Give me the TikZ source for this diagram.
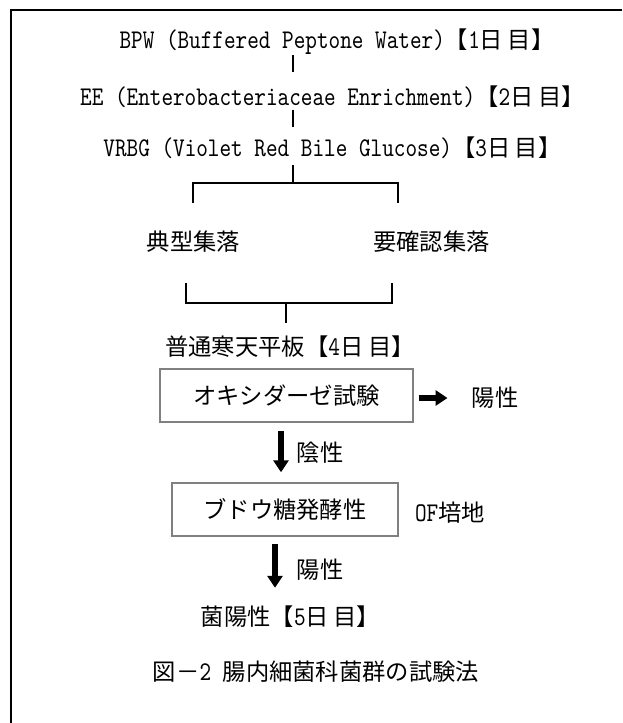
\documentclass[tikz,border=0pt]{standalone}
\usepackage{fontspec}
\setmainfont{Noto Sans CJK JP}
\newfontfamily\lat{lmmono10-regular.otf}[FakeStretch=0.82]
\usetikzlibrary{arrows.meta}
\newcommand{\jsz}{\fontsize{23.3pt}{28pt}\selectfont}
\newcommand{\lsz}{\lat\fontsize{27pt}{30pt}\selectfont}
\newcommand{\hw}[1]{{\lsz #1}}
\newcommand{\nichime}[1]{【\hw{#1}日\hspace{0.2em}目】}
\begin{document}
\begin{tikzpicture}[x=1pt,y=-1pt,
  txt/.style={inner sep=0pt, font=\jsz},
  conn/.style={line width=1.8pt},
  frameline/.style={line width=2pt},
  procbox/.style={draw=black!50, line width=1.5pt, inner sep=0pt, font=\jsz, minimum height=53pt},
  fat/.style={line width=6pt, -{Triangle[length=12pt,width=15pt]}}]
\useasboundingbox (0,0) rectangle (622,723);
\draw[frameline] (622,10) -- (11,10) -- (11,723);

\node[txt] (bpw) at (337,42) {\hw{BPW (Buffered Peptone Water)}\nichime{1}};
\node[txt] (ee) at (332.5,97) {\hw{EE (Enterobacteriaceae Enrichment)}\nichime{2}};
\node[txt] (vrbg) at (332.5,148) {\hw{VRBG (Violet Red Bile Glucose)}\nichime{3}};

\coordinate (t1a) at (293,55);  \coordinate (t1b) at (293,72);
\coordinate (t2a) at (293,110); \coordinate (t2b) at (293,127);
\coordinate (t3a) at (293,165); \coordinate (t3b) at (293,183);
\draw[conn] (t1a) -- (t1b);
\draw[conn] (t2a) -- (t2b);
\draw[conn] (t3a) -- (t3b);

\coordinate (b1l) at (193,203); \coordinate (b1r) at (398,203);
\draw[conn] (b1l) -- (b1l |- t3b) -- (b1r |- t3b) -- (b1r);

\node[txt] (typ) at (193.5,242) {典型集落};
\node[txt] (req) at (431.5,242) {要確認集落};

\coordinate (b2l) at (186,283); \coordinate (b2r) at (392,283);
\coordinate (t4a) at (286,303); \coordinate (t4b) at (286,323);
\draw[conn] (b2l) -- (b2l |- t4a) -- (b2r |- t4a) -- (b2r);
\draw[conn] (t4a) -- (t4b);

\node[txt] (agar) at (290,347) {普通寒天平板\nichime{4}};
\node[procbox, minimum width=253pt] (ox) at (286.5,395.5) {オキシダーゼ試験\hspace{19pt}};
\node[txt] (pos1) at (495,398) {陽性};
\node[txt] (neg) at (320,453) {陰性};
\node[procbox, minimum width=226pt] (glu) at (285,509.5) {ブドウ糖発酵性\hspace{19pt}};
\node[txt] (of) at (450,513) {\hw{OF}培地};
\node[txt] (pos2) at (320,570) {陽性};
\node[txt] (fin) at (290.5,617) {菌陽性\nichime{5}};
\node[txt] (cap) at (316,672) {図－\hw{2 }腸内細菌科菌群の試験法};

\draw[fat, shorten <=5pt, shorten >=24pt] (ox.east |- pos1.west) -- (pos1.west);
\draw[fat, shorten <=8pt, shorten >=10pt] ([xshift=-5.5pt]ox.south) -- ([xshift=-4pt]glu.north);
\draw[fat, shorten <=7pt] ([xshift=-10pt]glu.south) -- ++(0,51);
\end{tikzpicture}
\end{document}
